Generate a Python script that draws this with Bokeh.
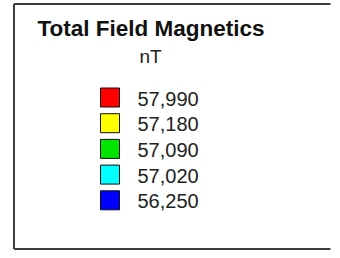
from bokeh.plotting import figure
from bokeh.models import Range1d
from bokeh.core.properties import value
from bokeh.embed import file_html
from bokeh.resources import INLINE

title = "Total Field Magnetics"
unit = "nT"
labels = ["57,990", "57,180", "57,090", "57,020", "56,250"]
colors = ["#ff0000", "#ffff00", "#00e600", "#00ffff", "#0000ff"]

p = figure(width=332, height=250, output_backend="svg", toolbar_location=None,
           x_range=Range1d(0, 332), y_range=Range1d(250, 0),
           min_border=0, outline_line_color=None)
p.axis.visible = False
p.grid.visible = False
p.background_fill_color = "white"
p.border_fill_color = "white"

# frame: top, left and bottom edges
p.segment(x0=[13.5, 13.5, 13.5], y0=[3.5, 3.5, 248.5],
          x1=[330, 13.5, 330], y1=[3.5, 248.5, 248.5],
          line_color="#3c3c3c", line_width=2)

TXT_SHIFT = 8  # svg text baseline correction

p.text(x=[37], y=[36 - TXT_SHIFT], text=[title], text_font=value("Liberation Sans"),
       text_font_style="bold", text_font_size="22.5px", text_color="#111111",
       text_baseline="alphabetic", text_align="left")
p.text(x=[150], y=[63 - TXT_SHIFT + 1], text=[unit], text_font=value("Liberation Sans"),
       text_font_size="19px", text_color="#222222", text_baseline="alphabetic", text_align="center")

step = 25.7
ys = [97 + step * i for i in range(len(labels))]
p.rect(x=[109.5] * len(labels), y=ys, width=19, height=19, fill_color=colors,
       line_color="#111111", line_width=1)
p.text(x=[137] * len(labels), y=[y + 9 - TXT_SHIFT for y in ys], text=labels,
       text_font=value("Liberation Sans"), text_font_size="20px", text_color="#222222",
       text_baseline="alphabetic", text_align="left")

open("out.html", "w").write(file_html(p, INLINE))
